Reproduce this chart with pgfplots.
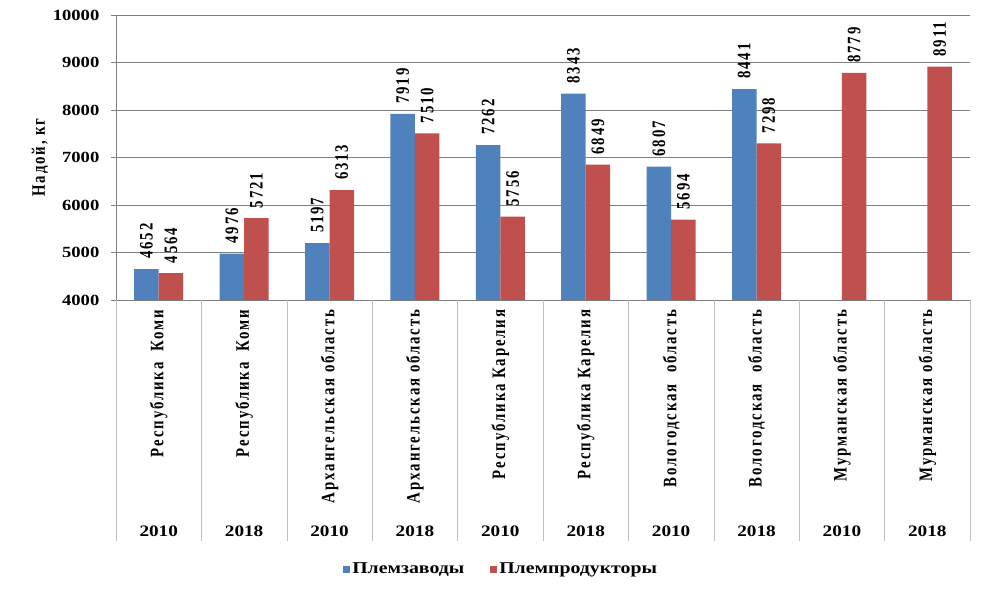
\documentclass[border=0pt]{standalone}
\usepackage{fontspec}
\setmainfont{Liberation Serif}
\newfontfamily\hfont[FakeStretch=1.2]{Liberation Serif}
\newfontfamily\vfont[FakeStretch=0.78,LetterSpace=10]{Liberation Serif}
\newcommand\hf[1]{\hfont\bfseries\fontsize{#1}{#1}\selectfont}
\newcommand\vf{\vfont\bfseries\fontsize{19bp}{19bp}\selectfont}
\newcommand\vl[1]{\rotatebox{90}{\vf #1}}
\usepackage{pgfplots}
\pgfplotsset{compat=1.18}
\definecolor{cblue}{HTML}{4F81BD}
\definecolor{cred}{HTML}{C0504D}
\pgfplotsset{sqleg/.style={legend image code/.code={\fill[##1] (0bp,-3.5bp) rectangle (7bp,3.5bp);}}}
\begin{document}
\begin{tikzpicture}[x=1bp,y=1bp]
\useasboundingbox (0,0) rectangle (993,591);
\begin{axis}[
  at={(116bp,291bp)}, anchor=south west,
  scale only axis, width=854bp, height=285bp,
  xmin=0.5, xmax=10.5, ymin=4000, ymax=10000,
  ytick={4000,5000,...,10000}, scaled y ticks=false,
  xtick={1,...,10},
  xticklabels={\vl{Республика\ \ Коми},\vl{Республика\ \ Коми},
    \vl{Архангельская область},\vl{Архангельская область},
    \vl{Республика Карелия},\vl{Республика Карелия},
    \vl{Вологодская\ \ область},\vl{Вологодская\ \ область},
    \vl{Мурманская область},\vl{Мурманская область}},
  xticklabel style={anchor=north, inner sep=0pt, yshift=-4bp},
  extra x ticks={1,...,10},
  extra x tick labels={2010,2018,2010,2018,2010,2018,2010,2018,2010,2018},
  extra x tick style={xticklabel style={anchor=center, font=\hf{16bp}, yshift=-222bp}},
  axis lines=left, axis line style={-, draw=gray},
  tick align=outside, major tick length=5.5bp,
  ytick style={draw=gray}, xtick style={draw=none},
  ymajorgrids, grid style={gray},
  yticklabel style={font=\hf{15.5bp}, inner sep=0pt, xshift=-11bp},
  /pgf/number format/1000 sep={},
  /pgf/number format/assume math mode=true,
  ybar=0pt, bar width=24.5bp,
  nodes near coords,
  nodes near coords style={font=\vf, rotate=90, anchor=west, inner sep=0pt, inner xsep=10bp, black},
  ylabel={Надой, кг},
  ylabel style={at={(axis description cs:-0.089,0.5)}, anchor=center, font=\vf},
  legend style={at={(axis description cs:0.451,-0.944)}, anchor=center, draw=none,
    font=\hf{16.5bp}, inner sep=0pt, legend columns=2,
    /tikz/every even column/.append style={column sep=24bp}},
  legend cell align=left,
  clip=false,
]
\addplot[fill=cblue, draw=none, sqleg]
  coordinates {(1,4652) (2,4976) (3,5197) (4,7919) (5,7262) (6,8343) (7,6807) (8,8441) (9,nan) (10,nan)};
\addplot[fill=cred, draw=none, sqleg]
  coordinates {(1,4564) (2,5721) (3,6313) (4,7510) (5,5756) (6,6849) (7,5694) (8,7298) (9,8779) (10,8911)};
\legend{Племзаводы, Племпродукторы}
\pgfplotsinvokeforeach{0.5,1.5,...,10.5}{
  \draw[gray!50] (axis cs:#1,4000) -- ([yshift=-241bp]axis cs:#1,4000);
}
\end{axis}
\end{tikzpicture}
\end{document}
